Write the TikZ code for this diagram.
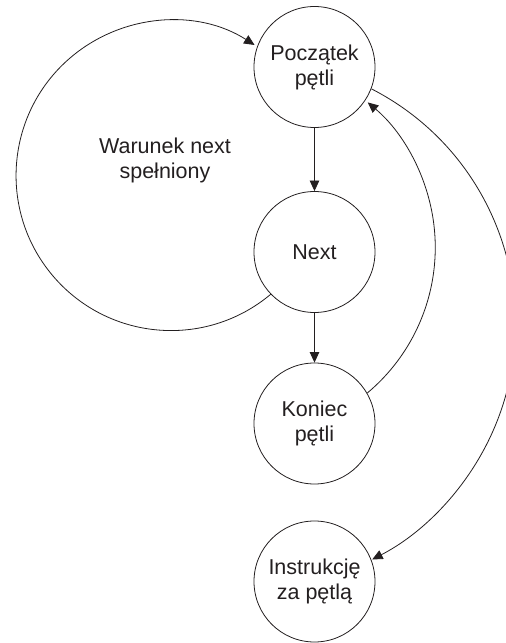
\documentclass[tikz,border=0pt]{standalone}
\usepackage{fontspec}
\setmainfont{Liberation Sans}
\usetikzlibrary{arrows.meta}
\definecolor{ink}{RGB}{35,31,32}
\begin{document}
\begin{tikzpicture}[x=1pt,y=1pt,
  state/.style={circle, draw=ink, line width=0.8pt, minimum size=121pt,
    inner sep=0pt, align=center, text=ink,
    font=\fontsize{21.5}{25}\selectfont},
  caption/.style={align=center, text=ink, inner sep=0pt,
    font=\fontsize{21.5}{25}\selectfont},
  flow/.style={draw=ink, line width=0.8pt,
    -{Triangle[length=10.5pt,width=9.5pt]}}]
\useasboundingbox (0,0) rectangle (506,643);

% states of the loop
\node[state] (pocz)  at (314.5,576)   {Początek\\pętli};
\node[state] (next)  at (314.5,391)   {Next};
\node[state] (kon)   at (314.5,219.5) {Koniec\\pętli};
\node[state] (instr) at (314.5,61.5)  {Instrukcję\\za pętlą};

% label inside the big loop
\node[caption] (cond) at (165,483) {Warunek next\\spełniony};

% straight transitions
\draw[flow] (pocz) -- (next);
\draw[flow] (next) -- (kon);

% Next -> back to the start of the loop
\draw[flow] (next.224) arc[start angle=-50, end angle=-302.6, radius=155pt];
% end of loop -> start of loop
\draw[flow] (kon.30) arc[start angle=-50.1, end angle=49.9, radius=189.7pt];
% leaving the loop
\draw[flow] (pocz.-21) arc[start angle=62.9, end angle=-62.7, radius=264.6pt];
\end{tikzpicture}
\end{document}
